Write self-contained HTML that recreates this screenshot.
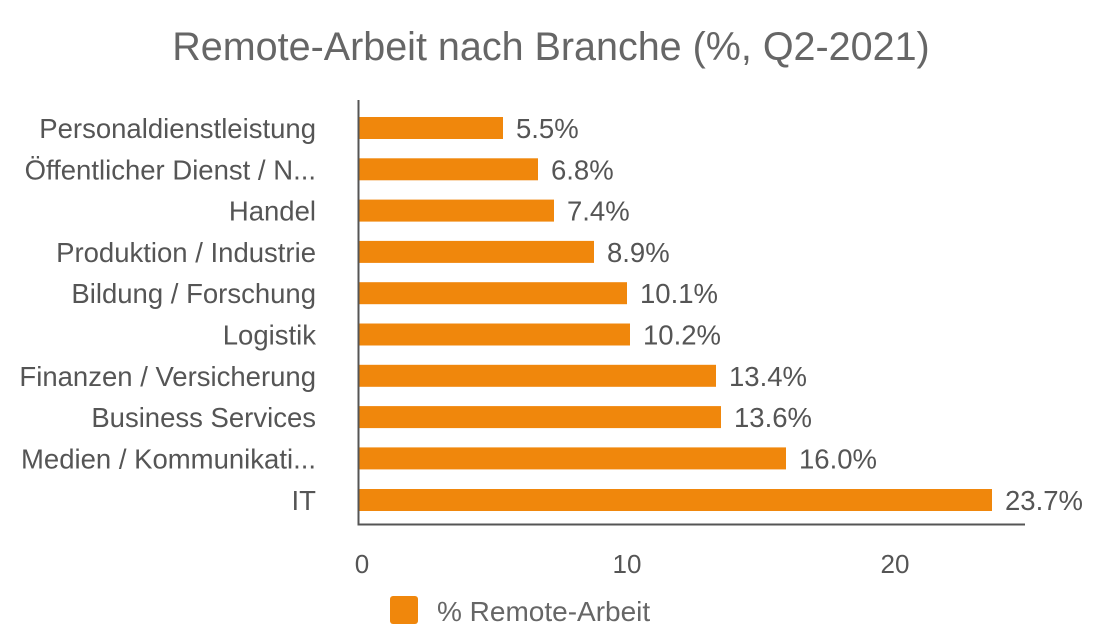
<!DOCTYPE html>
<html><head><meta charset="utf-8"><style>
body{margin:0;background:#fff;width:1100px;height:634px;overflow:hidden}
svg text{font-family:"Liberation Sans",sans-serif}
</style></head><body>
<svg width="1100" height="634" viewBox="0 0 1100 634">
<text x="551" y="60" font-size="39.5" text-anchor="middle" fill="#666">Remote-Arbeit nach Branche (%, Q2-2021)</text>
<g font-size="27.5" fill="#555">
<g fill="#F0870C">
<rect x="359" y="117" width="144" height="22"/>
<rect x="359" y="158.3" width="179" height="22"/>
<rect x="359" y="199.6" width="195" height="22"/>
<rect x="359" y="240.9" width="235" height="22"/>
<rect x="359" y="282.2" width="268" height="22"/>
<rect x="359" y="323.5" width="271" height="22"/>
<rect x="359" y="364.8" width="357" height="22"/>
<rect x="359" y="406.1" width="362" height="22"/>
<rect x="359" y="447.4" width="427" height="22"/>
<rect x="359" y="489" width="633" height="22"/>
</g>
<g text-anchor="end">
<text x="316" y="138">Personaldienstleistung</text>
<text x="316" y="179.3">Öffentlicher Dienst / N...</text>
<text x="316" y="220.6">Handel</text>
<text x="316" y="261.9">Produktion / Industrie</text>
<text x="316" y="303.2">Bildung / Forschung</text>
<text x="316" y="344.5">Logistik</text>
<text x="316" y="385.8">Finanzen / Versicherung</text>
<text x="316" y="427.1">Business Services</text>
<text x="316" y="468.4">Medien / Kommunikati...</text>
<text x="316" y="510">IT</text>
</g>
<text x="516" y="138">5.5%</text>
<text x="551" y="179.3">6.8%</text>
<text x="567" y="220.6">7.4%</text>
<text x="607" y="261.9">8.9%</text>
<text x="640" y="303.2">10.1%</text>
<text x="643" y="344.5">10.2%</text>
<text x="729" y="385.8">13.4%</text>
<text x="734" y="427.1">13.6%</text>
<text x="799" y="468.4">16.0%</text>
<text x="1005" y="510">23.7%</text>
<g text-anchor="middle" font-size="26">
<text x="362" y="573">0</text>
<text x="627" y="573">10</text>
<text x="895" y="573">20</text>
</g>
</g>
<path d="M358.5 100 V524.5 H1025" fill="none" stroke="#555" stroke-width="2"/>
<rect x="390" y="596" width="28" height="28" rx="3" fill="#F0870C"/>
<text x="437" y="621" font-size="28" fill="#666">% Remote-Arbeit</text>
</svg>
</body></html>
